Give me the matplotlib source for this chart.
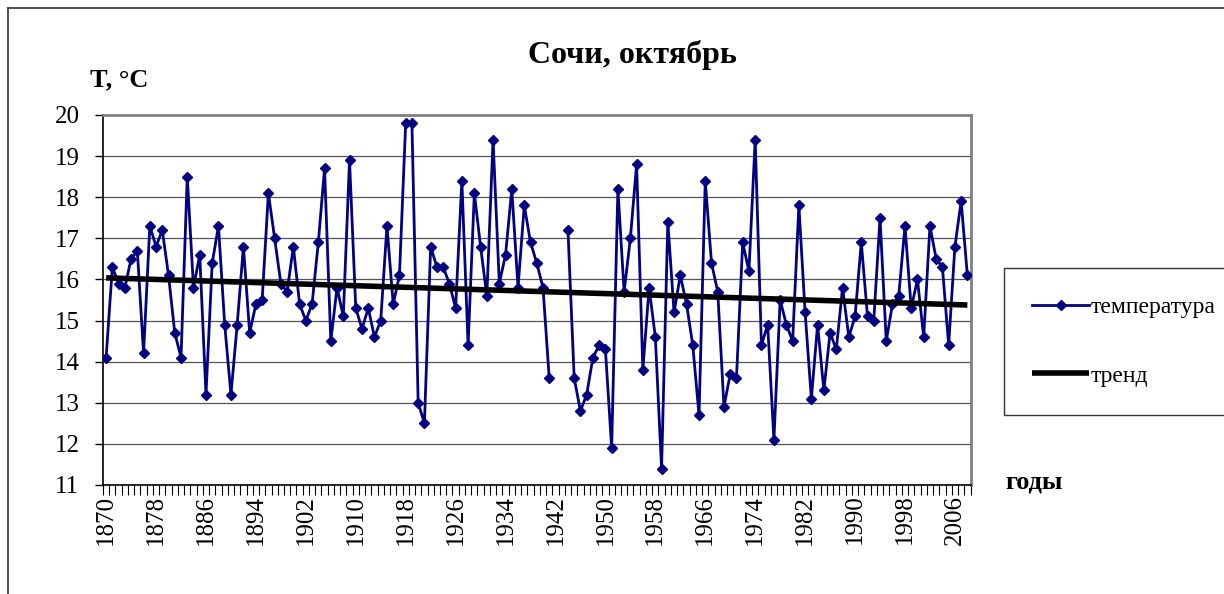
import numpy as np
import matplotlib
matplotlib.use("Agg")
import matplotlib.pyplot as plt
from matplotlib.lines import Line2D

plt.rcParams['font.family'] = ['Liberation Serif', 'DejaVu Serif']

years = list(range(1870, 2009))
temps = [
    14.1, 16.3, 15.9, 15.8, 16.5, 16.7, 14.2, 17.3, 16.8, 17.2,   # 1870-1879
    16.1, 14.7, 14.1, 18.5, 15.8, 16.6, 13.2, 16.4, 17.3, 14.9,   # 1880-1889
    13.2, 14.9, 16.8, 14.7, 15.4, 15.5, 18.1, 17.0, 15.9, 15.7,   # 1890-1899
    16.8, 15.4, 15.0, 15.4, 16.9, 18.7, 14.5, 15.8, 15.1, 18.9,   # 1900-1909
    15.3, 14.8, 15.3, 14.6, 15.0, 17.3, 15.4, 16.1, 19.8, 19.8,   # 1910-1919
    13.0, 12.5, 16.8, 16.3, 16.3, 15.9, 15.3, 18.4, 14.4, 18.1,   # 1920-1929
    16.8, 15.6, 19.4, 15.9, 16.6, 18.2, 15.8, 17.8, 16.9, 16.4,   # 1930-1939
    15.8, 13.6, np.nan, np.nan, 17.2, 13.6, 12.8, 13.2, 14.1, 14.4,  # 1940-1949
    14.3, 11.9, 18.2, 15.7, 17.0, 18.8, 13.8, 15.8, 14.6, 11.4,   # 1950-1959
    17.4, 15.2, 16.1, 15.4, 14.4, 12.7, 18.4, 16.4, 15.7, 12.9,   # 1960-1969
    13.7, 13.6, 16.9, 16.2, 19.4, 14.4, 14.9, 12.1, 15.5, 14.9,   # 1970-1979
    14.5, 17.8, 15.2, 13.1, 14.9, 13.3, 14.7, 14.3, 15.8, 14.6,   # 1980-1989
    15.1, 16.9, 15.1, 15.0, 17.5, 14.5, 15.4, 15.6, 17.3, 15.3,   # 1990-1999
    16.0, 14.6, 17.3, 16.5, 16.3, 14.4, 16.8, 17.9, 16.1,         # 2000-2008
]
label_years = list(range(1870, 2007, 8))

x = np.arange(len(years))
t = np.array(temps, dtype=float)
ok = ~np.isnan(t)
k, b = np.polyfit(x[ok], t[ok], 1)
trend = k * x + b

fig = plt.figure(figsize=(12.24, 5.94), dpi=100)
# outer chart border (only top and left visible)
fig.add_artist(Line2D([8 / 1224, 8 / 1224], [0, 1 - 8 / 594], color='#333333', lw=1.2))
fig.add_artist(Line2D([8 / 1224, 1], [1 - 8 / 594, 1 - 8 / 594], color='#333333', lw=1.2))

ax = fig.add_axes([103 / 1224, 1 - 485 / 594, (970.5 - 103) / 1224, (485 - 115) / 594])

temp_line, = ax.plot(x, t, color='#000080', lw=2, marker='D', ms=5.5, zorder=3)
trend_line, = ax.plot(x, trend, color='black', lw=4, solid_capstyle='butt', zorder=4)

ax.set_xlim(-0.5, len(years) - 0.5)
ax.set_ylim(11, 20)
ax.set_yticks(range(11, 21))
ax.yaxis.grid(True, color='#555555', lw=0.9)
ax.set_axisbelow(True)

ax.set_xticks([years.index(y) for y in label_years])
ax.set_xticklabels([str(y) for y in label_years], rotation=90)
ax.set_xticks(np.arange(-0.5, len(years)), minor=True)
ax.tick_params(axis='x', which='major', length=0, pad=7, labelsize=18)
ax.tick_params(axis='x', which='minor', length=7, width=0.8, direction='out')
ax.tick_params(axis='y', length=6, width=1, labelsize=18, pad=11)

for s in ['top', 'right']:
    ax.spines[s].set_color('#808080')
    ax.spines[s].set_linewidth(2)
ax.spines['left'].set_linewidth(1.2)
ax.spines['bottom'].set_linewidth(1.2)

fig.text(632 / 1224, 1 - 55 / 594, 'Сочи, октябрь', ha='center', va='center',
         fontsize=23, fontweight='bold')
fig.text(90 / 1224, 1 - 80 / 594, 'T, °C', ha='left', va='center',
         fontsize=19, fontweight='bold')
fig.text(1005 / 1224, 1 - 482 / 594, 'годы', ha='left', va='center',
         fontsize=19, fontweight='bold')

leg = fig.legend([temp_line, trend_line], ['температура', 'тренд'],
                 loc='upper left', bbox_to_anchor=(1004 / 1224, 1 - 268 / 594),
                 fontsize=17, frameon=True, fancybox=False, labelspacing=2.0,
                 handlelength=2.4, handletextpad=0.05, borderpad=1.2,
                 borderaxespad=0)
leg.get_frame().set_edgecolor('black')
leg.get_frame().set_linewidth(1)

fig.savefig('out.png', dpi=100)
